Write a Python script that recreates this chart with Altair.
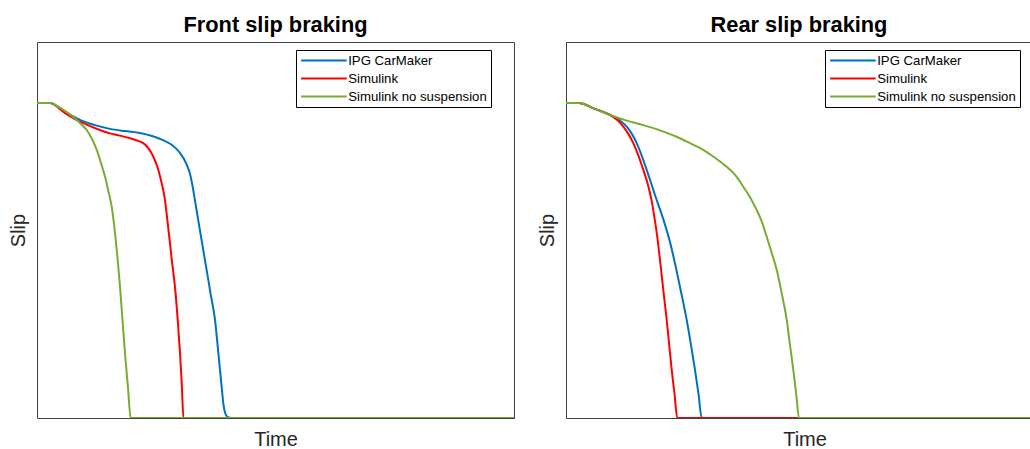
import altair as alt
import pandas as pd

series_names = ["IPG CarMaker", "Simulink", "Simulink no suspension"]
series_colors = ["#0072BD", "#FF0000", "#77AC30"]

# Front slip braking
front_t_ipg = [0, 0.273, 0.587, 0.901, 1.216, 1.530, 1.845, 2.159, 2.411, 2.642, 2.830, 2.998, 3.124,
               3.197, 3.249, 3.310, 3.379, 3.468, 3.556, 3.644, 3.732, 3.786, 3.836, 3.878, 3.910,
               3.948, 4.004, 4.088, 10]
front_s_ipg = [0.838, 0.838, 0.814, 0.793, 0.779, 0.769, 0.763, 0.758, 0.750, 0.739, 0.726, 0.705, 0.678,
               0.654, 0.625, 0.580, 0.527, 0.460, 0.394, 0.327, 0.261, 0.194, 0.128, 0.074, 0.035,
               0.012, 0.002, 0, 0]
front_t_sim = [0, 0.273, 0.587, 0.901, 1.216, 1.530, 1.740, 1.950, 2.096, 2.229, 2.338, 2.438, 2.532,
               2.614, 2.673, 2.709, 2.732, 2.774, 2.826, 2.893, 2.950, 2.998, 3.036, 3.069, 10]
front_s_sim = [0.838, 0.838, 0.811, 0.788, 0.771, 0.757, 0.751, 0.744, 0.738, 0.731, 0.717, 0.695, 0.665,
               0.624, 0.588, 0.553, 0.527, 0.481, 0.420, 0.348, 0.261, 0.173, 0.088, 0, 0]
front_t_nos = [0, 0.273, 0.440, 0.608, 0.776, 0.922, 1.042, 1.153, 1.252, 1.342, 1.426, 1.499, 1.566,
               1.635, 1.740, 1.845, 1.908, 1.964, 10]
front_s_nos = [0.838, 0.838, 0.828, 0.815, 0.799, 0.782, 0.766, 0.742, 0.713, 0.678, 0.642, 0.602, 0.562,
               0.492, 0.349, 0.172, 0.080, 0, 0]

# Rear slip braking (the panel runs past the page edge)
rear_t_ipg = [0, 0.273, 0.608, 0.922, 1.111, 1.273, 1.384, 1.482, 1.583, 1.692, 1.887, 2.044, 2.180,
              2.306, 2.421, 2.530, 2.621, 2.704, 2.778, 2.845, 10]
rear_s_ipg = [0.838, 0.838, 0.822, 0.806, 0.793, 0.775, 0.755, 0.731, 0.699, 0.660, 0.585, 0.527, 0.468,
              0.399, 0.330, 0.261, 0.194, 0.128, 0.064, 0, 0]
rear_t_sim = [0, 0.273, 0.608, 0.922, 1.069, 1.201, 1.310, 1.411, 1.520, 1.621, 1.719, 1.792, 1.855,
              1.908, 1.971, 2.040, 2.111, 2.164, 2.216, 2.275, 2.333, 10]
rear_s_sim = [0.838, 0.838, 0.822, 0.806, 0.793, 0.775, 0.755, 0.731, 0.697, 0.660, 0.620, 0.580, 0.532,
              0.487, 0.420, 0.340, 0.261, 0.194, 0.128, 0.064, 0, 0]
rear_t_nos = [0, 0.273, 0.608, 0.922, 1.273, 1.621, 1.971, 2.321, 2.600, 2.878, 3.124, 3.369, 3.553,
              3.717, 3.864, 3.998, 4.099, 4.203, 4.308, 4.417, 4.522, 4.627, 4.696, 4.765, 4.828,
              4.885, 10]
rear_s_nos = [0.838, 0.838, 0.822, 0.806, 0.791, 0.779, 0.765, 0.748, 0.731, 0.713, 0.692, 0.668, 0.645,
              0.615, 0.586, 0.553, 0.524, 0.484, 0.441, 0.394, 0.332, 0.261, 0.194, 0.128, 0.061,
              0, 0]

front_time_domain = [0, 10]
rear_time_domain = [0, 9.769]


def frame(ts, ss):
    rows = []
    for k, (t, s) in enumerate(zip(ts, ss)):
        for i, (tt, sv) in enumerate(zip(t, s)):
            rows.append({"series": series_names[k], "k": k, "i": i, "time": tt, "slip": sv})
    return pd.DataFrame(rows)


front_df = frame([front_t_ipg, front_t_sim, front_t_nos], [front_s_ipg, front_s_sim, front_s_nos])
rear_df = frame([rear_t_ipg, rear_t_sim, rear_t_nos], [rear_s_ipg, rear_s_sim, rear_s_nos])

FONT = "Liberation Sans"


def panel(df, title, domain, width):
    return (
        alt.Chart(df, title=alt.TitleParams(title, fontSize=21.8, fontWeight="bold", font=FONT,
                                            color="#000000", offset=5))
        .mark_line(strokeWidth=2, interpolate="monotone", clip=True)
        .encode(
            x=alt.X("time:Q", scale=alt.Scale(domain=domain, nice=False, zero=False),
                    axis=alt.Axis(title="Time", labels=False, ticks=False, domain=False, grid=False,
                                  titleFontSize=20, titleFontWeight="normal", titleFont=FONT,
                                  titleColor="#262626", titlePadding=11,
                                  titleX=238.5)),
            y=alt.Y("slip:Q", scale=alt.Scale(domain=[0, 1], nice=False, zero=False),
                    axis=alt.Axis(title="Slip", labels=False, ticks=False, domain=False, grid=False,
                                  titleFontSize=20, titleFontWeight="normal", titleFont=FONT,
                                  titleColor="#262626", titlePadding=9)),
            color=alt.Color("series:N", scale=alt.Scale(domain=series_names, range=series_colors),
                            legend=alt.Legend(title=None, orient="none", legendX=259, legendY=8,
                                              symbolType="M-1,0L7.3,0", symbolSize=121,
                                              symbolStrokeWidth=2, labelOffset=35,
                                              labelFontSize=13.2, labelFont=FONT, labelColor="#000000",
                                              strokeColor="#000000", fillColor="#ffffff",
                                              padding=4, rowPadding=4, cornerRadius=0)),
            detail="k:N",
            order="i:Q",
        )
        .properties(width=width, height=376)
    )


chart = (
    alt.hconcat(
        panel(front_df, "Front slip braking", front_time_domain, 477),
        panel(rear_df, "Rear slip braking", rear_time_domain, 466),
        spacing=21,
    )
    .resolve_scale(color="independent")
    .configure_view(stroke="#404040", strokeWidth=1)
    .configure_title(anchor="middle")
    .properties(padding={"left": 7, "top": 14, "right": -3, "bottom": -4}, background="#ffffff")
)

chart.save("out.html", embed_options={"renderer": "svg", "actions": False})
